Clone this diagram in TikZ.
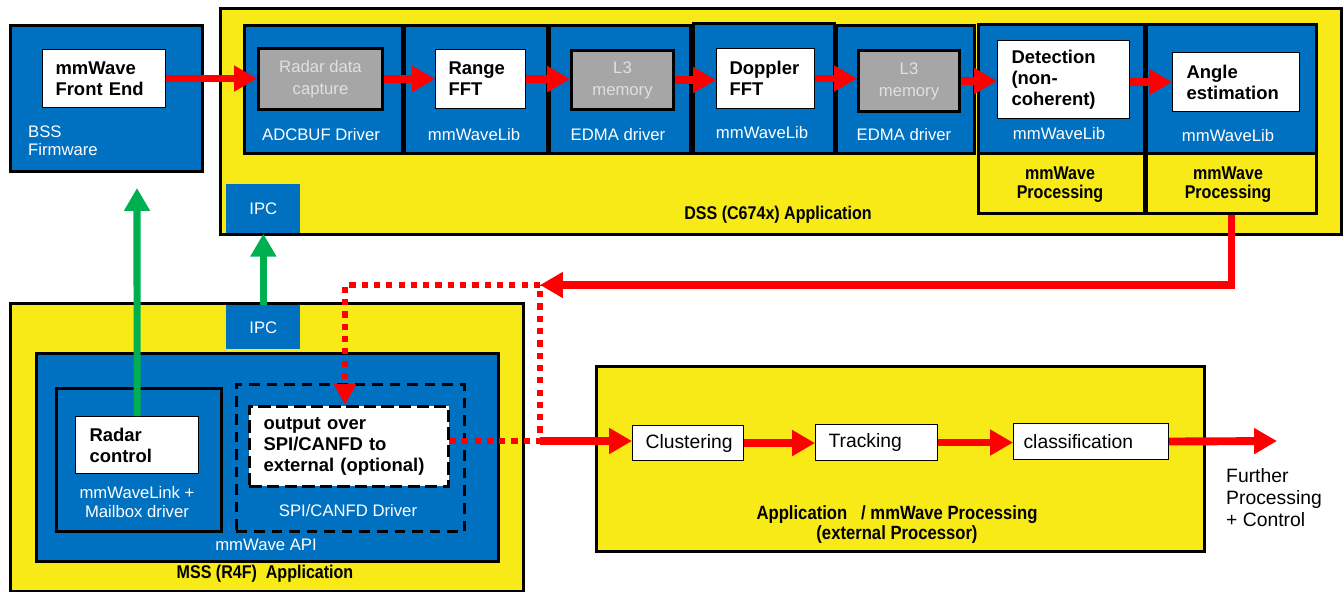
\documentclass[tikz,border=0pt]{standalone}
\usepackage{fontspec}
\setmainfont{Liberation Sans}
\newfontfamily\narrowfont[FakeStretch=0.87]{Liberation Sans}
\usetikzlibrary{arrows.meta}
\definecolor{tiblue}{RGB}{0,112,192}
\definecolor{tiyellow}{RGB}{247,234,23}
\definecolor{tigray}{RGB}{166,166,166}
\definecolor{tigreen}{RGB}{0,176,80}
\tikzset{sz/.style 2 args = {minimum width=#1*0.02cm, minimum height=#2*0.02cm, anchor=north west, inner sep=0pt},
         bluebox/.style = {draw=black, line width=1.7pt, fill=tiblue},
         yellowbox/.style = {draw=black, line width=1.7pt, fill=tiyellow},
         ipcbox/.style = {fill=tiblue, text=white, font=\fontsize{9.5}{11}\selectfont},
         whitebox/.style = {draw=black, line width=0.6pt, fill=white, align=left, font=\bfseries\fontsize{10.5}{12}\selectfont},
         graybox/.style = {draw=black, line width=1.7pt, fill=tigray, align=center, text=black!12, font=\fontsize{9.5}{12.5}\selectfont},
         stepbox/.style = {draw=black, line width=0.6pt, fill=white, align=left, font=\fontsize{11}{13}\selectfont},
         libtext/.style = {text=white, align=center, font=\fontsize{9.5}{10.5}\selectfont},
         titletext/.style = {align=center, font=\narrowfont\bfseries\fontsize{10.5}{10.8}\selectfont},
         redarrow/.style = {draw=red, line width=4.5pt, -{Triangle[length=13pt,width=14pt]}},
         greenarrow/.style = {draw=tigreen, line width=4pt, -{Triangle[length=13pt,width=14pt]}},
         dotline/.style = {draw=red, line width=3.5pt, dash pattern=on 3.5pt off 3.5pt}}

\begin{document}
\begin{tikzpicture}[x=0.02cm, y=-0.02cm]
\useasboundingbox (0,0) rectangle (1344,591);
% BSS
\node[bluebox, sz={192}{146}] (bss) at (9,24) {};
\node[whitebox, sz={123}{58}, text width=1.94cm] (fe) at (42,49) {mmWave\\Front End};
\node[libtext, align=left, anchor=west] (bsslbl) at (22,141) {BSS\\Firmware};
% DSS
\node[yellowbox, sz={1121}{226}] (dss) at (219,7) {};
\node[bluebox, sz={158}{128}] (m1) at (243,24) {};
\node[bluebox, sz={143}{128}] (m2) at (403,24) {};
\node[bluebox, sz={141}{128}] (m3) at (548,24) {};
\node[bluebox, sz={141}{130}] (m4) at (692,22) {};
\node[bluebox, sz={138}{128}] (m5) at (835,24) {};
\node[yellowbox, sz={166}{189}] (m6) at (977,23) {};
\node[bluebox, sz={166}{129}] (m6top) at (977,23) {};
\node[yellowbox, sz={170}{189}] (m7) at (1145,23) {};
\node[bluebox, sz={170}{129}] (m7top) at (1145,23) {};
\node[graybox, sz={124}{61}] (adc) at (257,47) {Radar data\\capture};
\node[whitebox, sz={90}{59}, text width=1.28cm] (rfft) at (435,49) {Range\\FFT};
\node[graybox, sz={102}{59}] (lmem1) at (570,49) {L3\\memory};
\node[whitebox, sz={98}{60}, text width=1.44cm] (dfft) at (716,48) {Doppler\\FFT};
\node[graybox, sz={101}{61}] (lmem2) at (857,49) {L3\\memory};
\node[whitebox, sz={132}{78}, text width=2.08cm] (det) at (997,40) {Detection\\(non-\\coherent)};
\node[whitebox, sz={127}{59}, text width=1.98cm] (ang) at (1172,52) {Angle\\estimation};
\node[libtext] (l1) at (321,135) {ADCBUF Driver};
\node[libtext] (l2) at (474,135) {mmWaveLib};
\node[libtext] (l3) at (618,135) {EDMA driver};
\node[libtext] (l4) at (762,133) {mmWaveLib};
\node[libtext] (l5) at (904,135) {EDMA driver};
\node[libtext] (l6) at (1059,134) {mmWaveLib};
\node[libtext] (l7) at (1228,136) {mmWaveLib};
\node[titletext] (p6) at (1060,185) {mmWave\\Processing};
\node[titletext] (p7) at (1228,185) {mmWave\\Processing};
\node[titletext] (dsslbl) at (778,215) {DSS (C674x) Application};
\node[ipcbox, sz={74}{49}] (ipcd) at (226,184) {IPC};
% MSS
\node[yellowbox, sz={513}{288}] (mss) at (9,302) {};
\node[ipcbox, sz={74}{44}] (ipcm) at (226,305) {IPC};
\node[bluebox, sz={462}{208}] (api) at (35,352) {};
\node[bluebox, sz={165}{143}] (radmod) at (55,387) {};
\node[whitebox, sz={123}{57}, text width=1.9cm] (radw) at (75,416) {Radar\\control};
\node[draw=black, line width=1.7pt, dash pattern=on 6pt off 4pt, sz={228}{147}] (spi) at (235,383) {};
\node[whitebox, line width=1.7pt, dash pattern=on 7pt off 3pt, sz={199}{80}, text width=3.42cm] (outw) at (248,405) {output over\\SPI/CANFD to\\external (optional)};
\node[libtext] (ml) at (137,502) {mmWaveLink +\\Mailbox driver};
\node[libtext] (spilbl) at (348,511) {SPI/CANFD Driver};
\node[libtext] (apilbl) at (266,545) {mmWave API};
\node[titletext] (msslbl) at (265,574) {MSS (R4F)\ \ Application};
% external processor
\node[yellowbox, sz={608}{185}] (ext) at (595,365) {};
\node[stepbox, sz={111}{35}, text width=1.7cm] (clu) at (632,425) {Clustering};
\node[stepbox, sz={122}{36}, text width=1.92cm] (trk) at (815,424) {Tracking};
\node[stepbox, sz={155}{36}, text width=2.7cm] (cls) at (1013,423) {classification};
\node[titletext, font=\narrowfont\bfseries\fontsize{10.9}{11.4}\selectfont] (extlbl) at (897,525) {Application \ \ / mmWave Processing\\(external Processor)};
\node[align=left, anchor=west, font=\fontsize{11}{12.5}\selectfont] (further) at (1220,498) {Further\\Processing\\+ Control};
\coordinate (bsstip) at (137,188);
\coordinate (jn) at (540,441);
\coordinate (jt) at (540,285);
\coordinate (jl) at (345,285);
\coordinate (outend) at (1277,441);
% data flow
\draw[redarrow] (fe.east) -- (fe.east -| adc.west);
\draw[redarrow] (adc.east) -- (adc.east -| rfft.west);
\draw[redarrow] (rfft.east) -- (rfft.east -| lmem1.west);
\draw[redarrow] (lmem1.east) -- (lmem1.east -| dfft.west);
\draw[redarrow] (dfft.east) -- (dfft.east -| lmem2.west);
\draw[redarrow] (lmem2.east) -- (lmem2.east -| det.west);
\draw[redarrow] (ang.west -| det.east) -- (ang.west);
\draw[greenarrow] (radw.north) -- (bsstip);
\draw[greenarrow] (ipcm.north) -- (ipcd.south);
\draw[dotline] (outw.east |- jn) -- (jn) -- (jt);
\draw[dotline, -{Triangle[length=12pt,width=12pt]}] (jt) -- (jl) -- (jl |- outw.north);
\draw[redarrow] (m7.south) |- (jt);
\draw[redarrow] (jn) -- (jn -| clu.west);
\draw[redarrow] (clu.east) -- (clu.east -| trk.west);
\draw[redarrow] (trk.east) -- (trk.east -| cls.west);
\draw[redarrow] (cls.east) -- (outend);
\end{tikzpicture}
\end{document}
